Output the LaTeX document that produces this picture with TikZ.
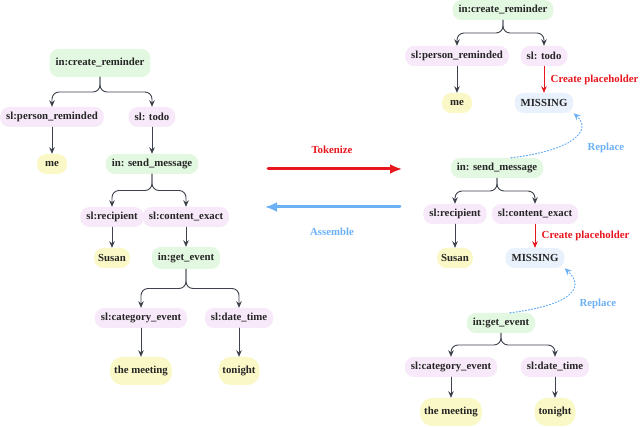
\documentclass[tikz,border=0pt]{standalone}
\usepackage{fontspec}
\setmainfont{Liberation Serif}
\usetikzlibrary{arrows.meta,calc}
\definecolor{intentc}{HTML}{E2F8E0}
\definecolor{slotc}{HTML}{F8E9FA}
\definecolor{valc}{HTML}{FAF8C6}
\definecolor{missc}{HTML}{E9F1FC}
\definecolor{arrc}{HTML}{3D424C}
\definecolor{redc}{HTML}{E8161E}
\definecolor{bluec}{HTML}{6CB0F6}
\begin{document}
\begin{tikzpicture}[x=1pt, y=-1pt, font=\fontsize{10.8}{12}\selectfont\bfseries, line join=round, line cap=round,
	box/.style={rounded corners=9pt, inner xsep=6pt, inner ysep=2pt, minimum height=20pt, text=black!85},
	intent/.style={box, fill=intentc},
	slot/.style={box, fill=slotc},
	val/.style={box, fill=valc, minimum width=30pt, inner xsep=4pt},
	bigval/.style={val, minimum height=28pt, rounded corners=12pt},
	miss/.style={box, fill=missc},
	arr/.style={draw=arrc, line width=0.9pt, -{Stealth[length=6.5pt,width=5.5pt]}},
	fork/.style={arr, rounded corners=7pt},
	holder/.style={draw=redc, line width=0.8pt, -{Stealth[length=6.5pt,width=5.5pt]}},
	replace/.style={draw=bluec, line width=1.1pt, dotted, -{Stealth[length=7pt,width=6pt]}}]
	\useasboundingbox (0,0) rectangle (640,427);
	% left tree
	\node[intent, minimum height=28pt] (Lcr) at (100,63) {in:create\_reminder};
	\node[slot] (Lpr) at (52,117) {sl:person\_reminded};
	\node[slot] (Ltodo) at (152,117) {sl: todo};
	\node[val] (Lme) at (52,164) {me};
	\node[intent] (Lsm) at (152,164) {in: send\_message};
	\node[slot] (Lrec) at (112,217) {sl:recipient};
	\node[slot] (Lce) at (186,217) {sl:content\_exact};
	\node[val] (Lsus) at (112,258) {Susan};
	\node[intent, minimum height=22pt] (Lge) at (186,258) {in:get\_event};
	\node[slot] (Lcat) at (141,318) {sl:category\_event};
	\node[slot] (Ldt) at (239,318) {sl:date\_time};
	\node[bigval] (Lmeet) at (141,371) {the meeting};
	\node[bigval] (Lton) at (239,371) {tonight};
	% right tree
	\node[intent] (Rcr) at (503,10) {in:create\_reminder};
	\node[slot] (Rpr) at (457,56) {sl:person\_reminded};
	\node[slot] (Rtodo) at (544,56) {sl: todo};
	\node[val] (Rme) at (457,103) {me};
	\node[miss] (Rmiss) at (544,103) {MISSING};
	\node[intent] (Rsm) at (497,168) {in: send\_message};
	\node[slot] (Rrec) at (455,214) {sl:recipient};
	\node[slot] (Rce) at (535,214) {sl:content\_exact};
	\node[val] (Rsus) at (455,258) {Susan};
	\node[miss] (Rmiss2) at (535,258) {MISSING};
	\node[intent] (Rge) at (501,323) {in:get\_event};
	\node[slot] (Rcat) at (451,367) {sl:category\_event};
	\node[slot] (Rdt) at (555,367) {sl:date\_time};
	\node[bigval] (Rmeet) at (451,412) {the meeting};
	\node[bigval] (Rton) at (555,412) {tonight};
	% branching arrows
	\foreach \p/\c in {Lcr/Lpr, Lcr/Ltodo, Lsm/Lrec, Lsm/Lce, Lge/Lcat, Lge/Ldt,
		Rcr/Rpr, Rcr/Rtodo, Rsm/Rrec, Rsm/Rce, Rge/Rcat, Rge/Rdt}
		\draw[fork] (\p.south) -- ($(\p.south)!.5!(\p.south|-\c.north)$) -| (\c.north);
	\foreach \p/\c in {Lpr/Lme, Ltodo/Lsm, Lrec/Lsus, Lce/Lge, Lcat/Lmeet, Ldt/Lton,
		Rpr/Rme, Rrec/Rsus, Rcat/Rmeet, Rdt/Rton}
		\draw[arr] (\p) -- (\c);
	% placeholders
	\draw[holder] (Rtodo) -- node[right=3pt, text=redc]{Create placeholder} (Rmiss);
	\draw[holder] (Rce) -- node[right=3pt, text=redc]{Create placeholder} (Rmiss2);
	\draw[replace] ([xshift=14pt]Rsm.north) .. controls (575,150) and (592,130) .. (Rmiss.south east);
	\draw[replace] ([xshift=9pt]Rge.north) .. controls (565,306) and (588,290) .. (Rmiss2.south east);
	\node[text=bluec, anchor=west] (rep1) at (584,148) {Replace};
	\node[text=bluec, anchor=west] (rep2) at (576,304) {Replace};
	% middle
	\coordinate (tokL) at (268,169); \coordinate (tokR) at (402,169);
	\coordinate (asmR) at (400,207); \coordinate (asmL) at (265,207);
	\draw[draw=redc, line width=3pt, -{Latex[length=12pt,width=10pt]}] (tokL) -- (tokR);
	\draw[draw=bluec, line width=3pt, -{Latex[length=12pt,width=10pt]}] (asmR) -- (asmL);
	\node[text=redc] (tok) at (332,150) {Tokenize};
	\node[text=bluec] (asm) at (332,232) {Assemble};
\end{tikzpicture}
\end{document}
